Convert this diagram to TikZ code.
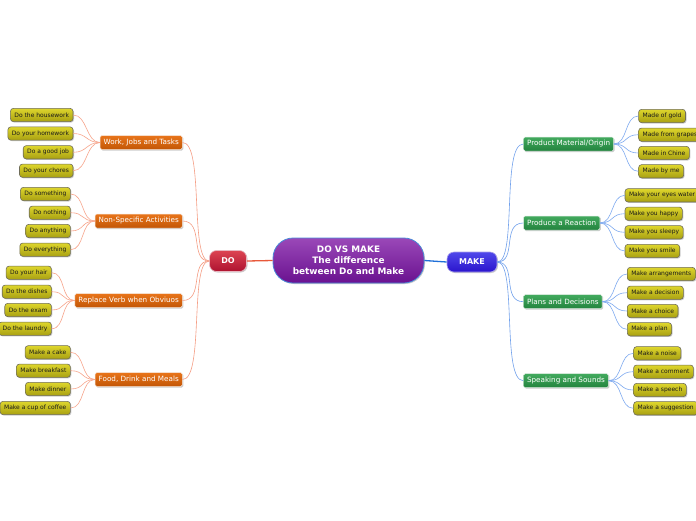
\documentclass[tikz,border=0pt]{standalone}
\usepackage{fontspec}
\setmainfont{DejaVu Sans}
\usetikzlibrary{shadows}
\definecolor{leafT}{HTML}{DED62C}
\definecolor{leafB}{HTML}{A8A012}
\definecolor{leafD}{HTML}{6E6C5A}
\definecolor{orT}{HTML}{E8741A}
\definecolor{orB}{HTML}{C25606}
\definecolor{grT}{HTML}{42AA5E}
\definecolor{grB}{HTML}{23833E}
\definecolor{puT}{HTML}{9A48B8}
\definecolor{puB}{HTML}{6A1290}
\definecolor{puD}{HTML}{4A8AD8}
\definecolor{reT}{HTML}{DC4452}
\definecolor{reB}{HTML}{AE1230}
\definecolor{blT}{HTML}{5048EA}
\definecolor{blB}{HTML}{2A14CC}
\definecolor{linkL}{HTML}{F7A58C}
\definecolor{linkR}{HTML}{7FAAF0}
\definecolor{mainL}{HTML}{E8583A}
\definecolor{mainR}{HTML}{2070D8}
\tikzset{
  shad/.style={drop shadow={opacity=0.4, shadow xshift=1pt, shadow yshift=-1pt}},
  leaf/.style={shad, draw=leafD, line width=0.6pt, top color=leafT, bottom color=leafB,
    rounded corners=3pt, minimum height=13.3pt, inner xsep=4pt, inner ysep=0pt,
    font=\fontsize{6}{6.5}\selectfont, text=black!90},
  catL/.style={shad, draw=white!85!orB, line width=0.5pt, top color=orT, bottom color=orB,
    rounded corners=1.5pt, minimum height=14pt, inner xsep=3.5pt, inner ysep=0pt,
    font=\fontsize{7.2}{8}\selectfont, text=white},
  catR/.style={catL, draw=white!85!grB, top color=grT, bottom color=grB},
  lc/.style={draw=linkL, line width=0.6pt},
  rc/.style={draw=linkR, line width=0.6pt},
}
\begin{document}
\begin{tikzpicture}[x=1pt,y=-1pt]
\useasboundingbox (0,0) rectangle (696,520);
\fill[white] (0,0) rectangle (696,520);

% central
\node[shad, draw=puD, line width=0.8pt, top color=puT, bottom color=puB, rounded corners=20pt,
  minimum width=151pt, minimum height=45pt, inner sep=0pt, align=center,
  font=\bfseries\fontsize{8.9}{11}\selectfont, text=white] (c) at (348.5,260.5)
  {DO VS MAKE\\The difference\\between Do and Make};
\node[shad, draw=white!70!reB, line width=0.6pt, top color=reT, bottom color=reB, rounded corners=7pt,
  minimum width=37pt, minimum height=21pt, inner sep=0pt,
  font=\bfseries\fontsize{8}{9}\selectfont, text=white] (do) at (228,261) {DO};
\node[shad, draw=white!60!blB, line width=0.6pt, top color=blT, bottom color=blB, rounded corners=7pt,
  minimum width=50pt, minimum height=20pt, inner sep=0pt,
  font=\bfseries\fontsize{8}{9}\selectfont, text=white] (mk) at (472,262) {MAKE};
\draw[mainL, line width=1.3pt] (do.east) -- (c.west);
\draw[mainR, line width=1.3pt] (c.east) -- (mk.west);

% left categories
\node[catL, anchor=east] (l1) at (182.5,142.5) {Work, Jobs and Tasks};
\node[catL, anchor=east] (l2) at (182.5,221) {Non-Specific Activities};
\node[catL, anchor=east] (l3) at (182.5,300.5) {Replace Verb when Obviuos};
\node[catL, anchor=east] (l4) at (182.5,379.5) {Food, Drink and Meals};
% right categories
\node[catR, anchor=west] (r1) at (523.3,144) {Product Material/Origin};
\node[catR, anchor=west] (r2) at (523.3,223) {Produce a Reaction};
\node[catR, anchor=west] (r3) at (523.3,301.7) {Plans and Decisions};
\node[catR, anchor=west] (r4) at (523.3,380.7) {Speaking and Sounds};

\foreach \n in {l1,l2,l3,l4}
  \draw[lc, draw=linkL!90!mainL] (do.west) .. controls +(-20,0) and +(22,0) .. (\n.east);
\foreach \n in {r1,r2,r3,r4}
  \draw[rc, draw=linkR!85!mainR] (mk.east) .. controls +(20,0) and +(-22,0) .. (\n.west);

% left leaves
\node[leaf, anchor=east] (a1) at (73.3,115) {Do the housework};
\node[leaf, anchor=east] (a2) at (73.3,133.5) {Do your homework};
\node[leaf, anchor=east] (a3) at (73.3,152.3) {Do a good job};
\node[leaf, anchor=east] (a4) at (73.3,170.7) {Do your chores};
\node[leaf, anchor=east] (b1) at (70.7,194) {Do something};
\node[leaf, anchor=east] (b2) at (70.7,212.7) {Do nothing};
\node[leaf, anchor=east] (b3) at (70.7,231) {Do anything};
\node[leaf, anchor=east] (b4) at (70.7,249.7) {Do everything};
\node[leaf, anchor=east] (c1) at (51.7,272.7) {Do your hair};
\node[leaf, anchor=east] (c2) at (51.7,291.7) {Do the dishes};
\node[leaf, anchor=east] (c3) at (51.7,310) {Do the exam};
\node[leaf, anchor=east] (c4) at (51.7,328.7) {Do the laundry};
\node[leaf, anchor=east] (d1) at (70.7,352.3) {Make a cake};
\node[leaf, anchor=east] (d2) at (70.7,370.7) {Make breakfast};
\node[leaf, anchor=east] (d3) at (70.7,389) {Make dinner};
\node[leaf, anchor=east] (d4) at (70.7,408) {Make a cup of coffee};
% right leaves
\node[leaf, anchor=west] (e1) at (638.3,116) {Made of gold};
\node[leaf, anchor=west] (e2) at (638.3,134.7) {Made from grapes};
\node[leaf, anchor=west] (e3) at (638.3,153) {Made in Chine};
\node[leaf, anchor=west] (e4) at (638.3,171.3) {Made by me};
\node[leaf, anchor=west] (f1) at (624.7,195.3) {Make your eyes water};
\node[leaf, anchor=west] (f2) at (624.7,213.7) {Make you happy};
\node[leaf, anchor=west] (f3) at (624.7,232.3) {Make you sleepy};
\node[leaf, anchor=west] (f4) at (624.7,251) {Make you smile};
\node[leaf, anchor=west] (g1) at (627,274) {Make arrangements};
\node[leaf, anchor=west] (g2) at (627,292.7) {Make a decision};
\node[leaf, anchor=west] (g3) at (627,311) {Make a choice};
\node[leaf, anchor=west] (g4) at (627,329.3) {Make a plan};
\node[leaf, anchor=west] (h1) at (633.3,353.3) {Make a noise};
\node[leaf, anchor=west] (h2) at (633.3,371.7) {Make a comment};
\node[leaf, anchor=west] (h3) at (633.3,390) {Make a speech};
\node[leaf, anchor=west] (h4) at (633.3,408.3) {Make a suggestion};

\foreach \p/\g in {l1/a,l2/b,l3/c,l4/d}
  \foreach \i in {1,2,3,4}
    \draw[lc] (\p.west) .. controls +(-14,0) and +(14,0) .. (\g\i.east);
\foreach \p/\g in {r1/e,r2/f,r3/g,r4/h}
  \foreach \i in {1,2,3,4}
    \draw[rc] (\p.east) .. controls +(14,0) and +(-14,0) .. (\g\i.west);
\end{tikzpicture}
\end{document}
